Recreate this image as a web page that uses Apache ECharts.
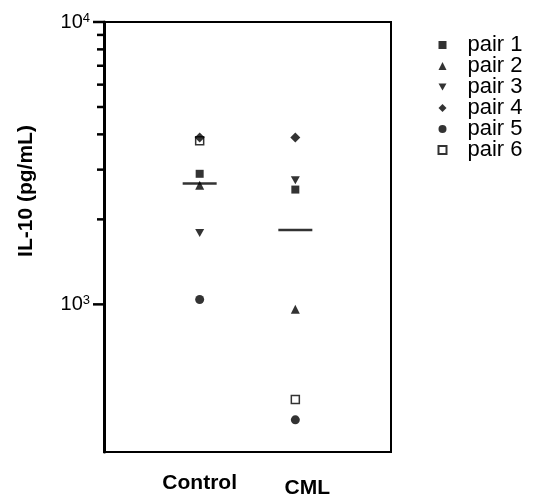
<!DOCTYPE html>
<html>
<head>
<meta charset="utf-8">
<script src="https://cdn.jsdelivr.net/npm/echarts@6/dist/echarts.min.js"></script>
<style>
  html, body { margin: 0; padding: 0; background: #fff; }
  #chart { width: 534px; height: 495px; }
</style>
</head>
<body>
<div id="chart"></div>
<script>
const groups = ['Control', 'CML'];
const pairNames = ['pair 1', 'pair 2', 'pair 3', 'pair 4', 'pair 5', 'pair 6'];
// IL-10 values (pg/mL) for each pair: [Control, CML]
const pair1 = [2900, 2550];
const pair2 = [2640, 960];
const pair3 = [1790, 2750];
const pair4 = [3900, 3900];
const pair5 = [1040, 390];
const pair6 = [3800, 460];
const majorTicks = [1000, 10000];
const minorTicks = [2000, 3000, 4000, 5000, 6000, 7000, 8000, 9000];

const font = 'Arial, "Liberation Sans", sans-serif';
const pairs = [pair1, pair2, pair3, pair4, pair5, pair6];

// marker per pair (pair 3 is a downward triangle)
const marks = [
  { symbol: 'rect', size: 8, style: { color: '#000' } },
  { symbol: 'triangle', size: 9, style: { color: '#000' } },
  { symbol: 'path://M0,0 L10,0 L5,9 Z', size: 9, style: { color: '#000' } },
  { symbol: 'diamond', size: 10, style: { color: '#000' } },
  { symbol: 'circle', size: 9, style: { color: '#000' } },
  { symbol: 'rect', size: 8, style: { color: 'none', borderColor: '#000', borderWidth: 1.5 } }
];

const means = groups.map((g, i) => {
  let sum = 0;
  pairs.forEach((p) => { sum += p[i]; });
  return [i + 1, sum / pairs.length];
});

const pairSeries = pairNames.map((name, k) => ({
  name,
  type: 'scatter',
  symbol: marks[k].symbol,
  symbolSize: marks[k].size,
  symbolKeepAspect: true,
  itemStyle: marks[k].style,
  z: 3,
  data: pairs[k].map((v, i) => [i + 1, v])
}));

const tickValues = majorTicks.concat(minorTicks);

const chart = echarts.init(document.getElementById('chart'));
chart.setOption({
  animation: false,
  backgroundColor: '#fff',
  grid: {
    left: 104, top: 22, right: 143, bottom: 43,
    outerBoundsMode: 'none',
    containLabel: false,
    show: true, borderColor: '#000', borderWidth: 2, backgroundColor: 'transparent'
  },
  legend: {
    data: pairNames.map((name, k) => ({ name, icon: marks[k].symbol })),
    orient: 'vertical',
    left: 431,
    top: 29,
    itemWidth: 8,
    itemHeight: 8,
    itemGap: -1,
    textStyle: { fontFamily: font, fontSize: 22, color: '#000', padding: [0, 0, 0, 16] }
  },
  xAxis: {
    type: 'value',
    min: 0,
    max: 3,
    interval: 1,
    splitLine: { show: false },
    axisTick: { show: false },
    axisLine: { lineStyle: { color: '#000', width: 2 } },
    axisLabel: {
      margin: 21,
      formatter: (v) => {
        if (v === 1) return '{a|' + groups[0] + '}';
        if (v === 2) return '{b|' + groups[1] + '}';
        return '';
      },
      rich: {
        a: { fontFamily: font, fontSize: 21, fontWeight: 'bold', color: '#000' },
        b: { fontFamily: font, fontSize: 21, fontWeight: 'bold', color: '#000', padding: [5, 0, 0, 24] }
      }
    }
  },
  yAxis: {
    type: 'log',
    logBase: 10,
    min: 300,
    max: 10000,
    name: 'IL-10 (pg/mL)',
    nameLocation: 'middle',
    nameGap: 67,
    nameTextStyle: { fontFamily: font, fontSize: 21, fontWeight: 'bold', color: '#000', padding: [0, 0, 0, 92] },
    splitLine: { show: false },
    axisTick: { show: false },
    axisLine: { lineStyle: { color: '#000', width: 3 } },
    axisLabel: {
      margin: 14,
      formatter: (v) => {
        const r = Math.round(v);
        if (majorTicks.indexOf(r) < 0) return '';
        return '{b|10}{s|' + Math.round(Math.log10(r)) + '}';
      },
      rich: {
        b: { fontFamily: font, fontSize: 20, color: '#000', lineHeight: 22 },
        s: { fontFamily: font, fontSize: 13, color: '#000', verticalAlign: 'top', padding: [1, 0, 0, 0] }
      }
    }
  },
  series: pairSeries.concat([
    {
      name: 'mean',
      type: 'scatter',
      symbol: 'rect',
      symbolSize: [34, 2.5],
      itemStyle: { color: '#000' },
      z: 2,
      data: means
    },
    {
      name: 'ticks',
      type: 'custom',
      silent: true,
      data: tickValues.map((v) => [0, v]),
      renderItem: (params, api) => {
        const v = api.value(1);
        const p = api.coord([0, v]);
        const len = majorTicks.indexOf(v) >= 0 ? 11 : 7;
        return {
          type: 'line',
          shape: { x1: p[0] - len, y1: p[1], x2: p[0], y2: p[1] },
          style: { stroke: '#000', lineWidth: 2.5 }
        };
      }
    }
  ])
});
</script>
</body>
</html>
